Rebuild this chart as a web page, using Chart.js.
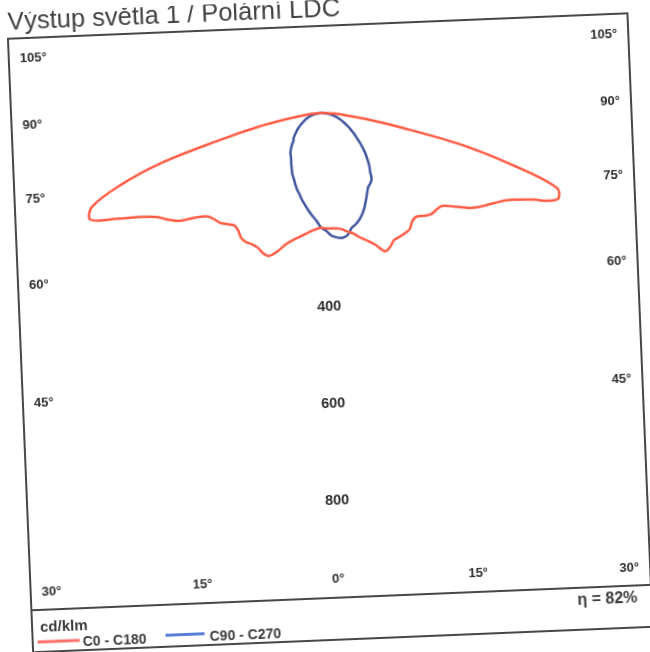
<!DOCTYPE html>
<html>
<head>
<meta charset="utf-8">
<script src="https://cdn.jsdelivr.net/npm/chart.js@4.4.0/dist/chart.umd.min.js"></script>
<style>
html,body{margin:0;padding:0;background:#fff;overflow:hidden;width:650px;height:652px;}
#wrap{position:absolute;left:0;top:0;width:650px;height:652px;transform:rotate(-2.35deg);transform-origin:325px 326px;}
canvas{display:block;}
</style>
</head>
<body>
<div id="wrap"><canvas id="c" width="650" height="652"></canvas></div>
<script>
// ---- data (gamma angle in degrees, luminous intensity in cd/klm) ----
const gamma = [0,2.5,5,7.5,10,12.5,15,17.5,20,22.5,25,27.5,30,32.5,35,37.5,40,42.5,45,47.5,50,52.5,55,57.5,60,62.5,65,67.5,70,72.5,75,77.5,80,82.5,85,87.5,90];
const c0   = [238,239,240,243,250,257,269,280,294,314,310,302,302,302,301,292,290,299,308,310,314,335,363,383,401,423,464,518,510,405,290,160,90,50,25,10,0];
const c180 = [238,237,240,245,252,260,269,281,300,314,313,307,306,308,306,297,293,300,308,311,317,336,367,385,401,431,475,524,512,443,344,213,133,70,35,12,0];
const c90  = [243,254,259,261,257,245,240,233,224,213,201,190,181,177,171,157,147,135,124,112,101,90,81,72,65,57,50,44,38,33,28,22,16,11,6,3,0];
const c270 = [243,236,222,212,202,192,183,173,165,156,147,140,131,123,115,109,104,97,89,81,77,71,65,60,54,49,44,39,35,30,26,21,16,11,7,3,0];

const seriesNames = ['C0 - C180', 'C90 - C270'];
const sideTicks = [105, 90, 75, 60, 45, 30];
const bottomTicks = [-15, 0, 15];
const radialTicks = [400, 600, 800];
const titleText = 'Výstup světla 1 / Polární LDC';
const unitText = 'cd/klm';
const etaText = 'η = 82%';

// ---- styling ----
const RED = '#ff5c45';
const BLUE = '#43579e';
const PX = 0.485;      // pixels per cd/klm
const AREA = {left: 20, right: 10, top: 26, bottom: 54};
const CX_PIX = 330, CY_PIX = 113;
const W = 650, H = 652;

function polarLoop(leftVals, rightVals) {
  const pts = [];
  for (let i = gamma.length - 1; i >= 0; i--) {
    const a = gamma[i] * Math.PI / 180;
    pts.push({x: -leftVals[i] * Math.sin(a), y: -leftVals[i] * Math.cos(a)});
  }
  for (let i = 1; i < gamma.length; i++) {
    const a = gamma[i] * Math.PI / 180;
    pts.push({x: rightVals[i] * Math.sin(a), y: -rightVals[i] * Math.cos(a)});
  }
  return pts;
}

const xMin = (AREA.left - CX_PIX) / PX;
const xMax = (W - AREA.right - CX_PIX) / PX;
const yMax = (CY_PIX - AREA.top) / PX;
const yMin = -((H - AREA.bottom) - CY_PIX) / PX;

const FONT = '"Liberation Sans", Arial, sans-serif';

const framePlugin = {
  id: 'frame',
  beforeDraw(chart) {
    const ctx = chart.ctx;
    ctx.save();
    ctx.fillStyle = '#ffffff';
    ctx.fillRect(0, 0, chart.width, chart.height);
    ctx.restore();
  },
  afterDraw(chart) {
    const {ctx, chartArea: ca, scales: {x, y}} = chart;
    const cx = x.getPixelForValue(0), cy = y.getPixelForValue(0);
    ctx.save();
    // title
    ctx.fillStyle = '#424242';
    ctx.font = '25.5px ' + FONT;
    ctx.textAlign = 'left';
    ctx.textBaseline = 'alphabetic';
    ctx.fillText(titleText, ca.left, ca.top - 9);
    // frames
    ctx.strokeStyle = '#474747';
    ctx.lineWidth = 2;
    ctx.strokeRect(ca.left, ca.top, ca.right - ca.left, ca.bottom - ca.top);
    ctx.strokeRect(ca.left, ca.bottom, ca.right - ca.left, 42);
    // side angle labels
    ctx.fillStyle = '#2e2e2e';
    ctx.font = 'bold 13px ' + FONT;
    ctx.textBaseline = 'middle';
    sideTicks.forEach(t => {
      let yy = cy + 278 / Math.tan(t * Math.PI / 180);
      yy = Math.max(ca.top + 20, Math.min(ca.bottom - 18, yy));
      ctx.textAlign = 'left';
      ctx.fillText(t + '°', ca.left + 11, yy);
      ctx.textAlign = 'right';
      ctx.fillText(t + '°', ca.right - 11, yy);
    });
    // bottom angle labels
    ctx.textAlign = 'center';
    bottomTicks.forEach(t => {
      const xx = cx + 515 * Math.tan(t * Math.PI / 180) - (t === 0 ? 2 : 0);
      ctx.fillText(Math.abs(t) + '°', xx, ca.bottom - 19);
    });
    // radial labels
    ctx.font = 'bold 14.5px ' + FONT;
    radialTicks.forEach(v => {
      ctx.fillText(String(v), cx, y.getPixelForValue(-v));
    });
    // legend
    const ly = ca.bottom;
    ctx.textAlign = 'left';
    ctx.textBaseline = 'alphabetic';
    ctx.font = 'bold 15px ' + FONT;
    ctx.fillStyle = '#3a3a3a';
    ctx.fillText(unitText, ca.left + 8, ly + 22);
    const items = [
      {c: '#ff6e66', x0: ca.left + 5, x1: ca.left + 47, yl: ly + 32, tx: ca.left + 50, ty: ly + 38},
      {c: '#5a7fd4', x0: ca.left + 133, x1: ca.left + 172, yl: ly + 30.5, tx: ca.left + 177, ty: ly + 37.5}
    ];
    ctx.font = 'bold 14px ' + FONT;
    items.forEach((it, i) => {
      ctx.strokeStyle = it.c;
      ctx.lineWidth = 3;
      ctx.beginPath();
      ctx.moveTo(it.x0, it.yl);
      ctx.lineTo(it.x1, it.yl);
      ctx.stroke();
      ctx.fillStyle = '#3a3a3a';
      ctx.fillText(chart.data.datasets[i].label, it.tx, it.ty);
    });
    ctx.font = 'bold 16px ' + FONT;
    ctx.textAlign = 'right';
    ctx.textBaseline = 'middle';
    ctx.fillText(etaText, ca.right - 14, ly + 13);
    ctx.restore();
  }
};

new Chart(document.getElementById('c'), {
  type: 'scatter',
  data: {
    datasets: [
      {label: seriesNames[0], data: polarLoop(c180, c0), showLine: true, borderColor: RED, borderWidth: 2.5, pointRadius: 0, tension: 0.35, fill: false},
      {label: seriesNames[1], data: polarLoop(c270, c90), showLine: true, borderColor: BLUE, borderWidth: 2.5, pointRadius: 0, tension: 0.35, fill: false}
    ]
  },
  options: {
    responsive: false,
    animation: false,
    devicePixelRatio: 1,
    layout: {padding: AREA},
    scales: {
      x: {type: 'linear', min: xMin, max: xMax, display: false},
      y: {type: 'linear', min: yMin, max: yMax, display: false}
    },
    plugins: {legend: {display: false}, title: {display: false}, tooltip: {enabled: false}}
  },
  plugins: [framePlugin]
});
</script>
</body>
</html>
